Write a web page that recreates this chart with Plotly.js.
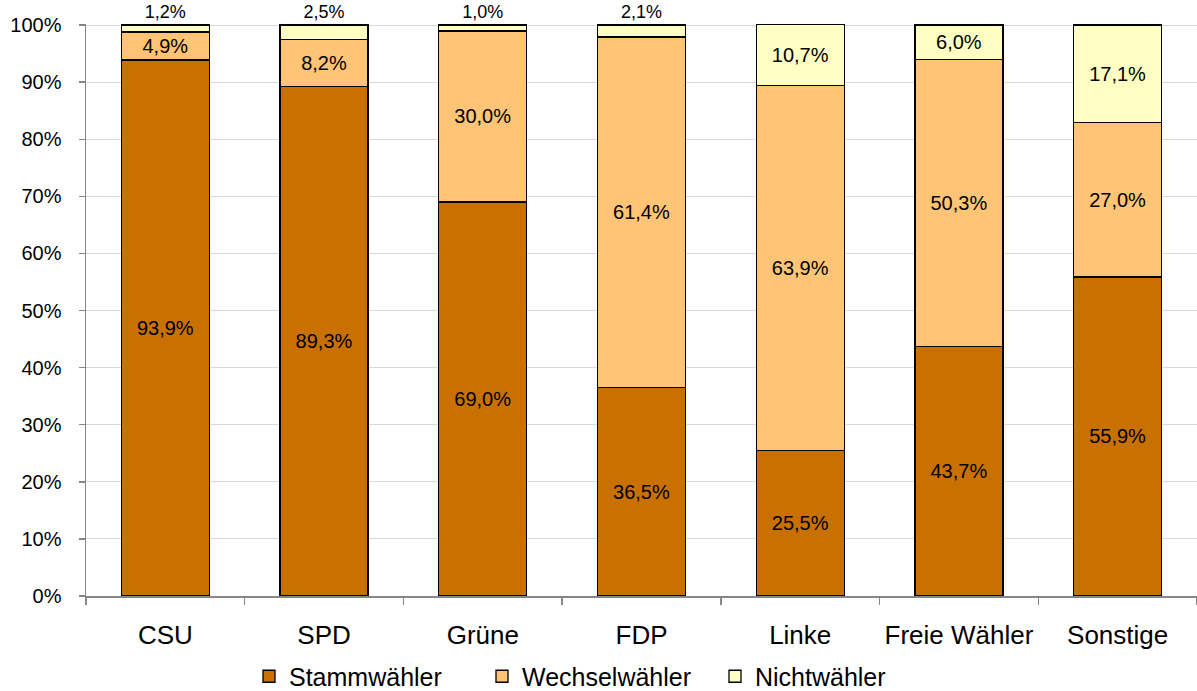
<!DOCTYPE html>
<html>
<head>
<meta charset="utf-8">
<script src="https://cdn.plot.ly/plotly-3.0.1.min.js"></script>
<style>html,body{margin:0;padding:0;background:#fff}#chart{width:1197px;height:691px}</style>
</head>
<body>
<div id="chart"></div>
<script>
const categories = ['CSU', 'SPD', 'Grüne', 'FDP', 'Linke', 'Freie Wähler', 'Sonstige'];
const stammwaehler = [93.9, 89.3, 69.0, 36.5, 25.5, 43.7, 55.9];
const wechselwaehler = [4.9, 8.2, 30.0, 61.4, 63.9, 50.3, 27.0];
const nichtwaehler = [1.2, 2.5, 1.0, 2.1, 10.7, 6.0, 17.1];
const yTicks = [0, 10, 20, 30, 40, 50, 60, 70, 80, 90, 100];

const fmt = v => v.toFixed(1).replace('.', ',') + '%';
const FONT = 'Liberation Sans, Arial, sans-serif';

function mkTrace(name, vals, color, positions, sizes) {
  return {
    type: 'bar', name: name, x: categories, y: vals,
    text: vals.map(fmt),
    textposition: positions || 'inside',
    insidetextanchor: 'middle',
    constraintext: 'none',
    cliponaxis: false,
    textfont: {family: FONT, color: '#000', size: sizes || 20},
    insidetextfont: {family: FONT, color: '#000', size: sizes || 20},
    outsidetextfont: {family: FONT, color: '#000', size: sizes || 20},
    marker: {color: color, line: {color: '#000', width: 1.3}},
    hoverinfo: 'x+y+name'
  };
}

const nPos = nichtwaehler.map(v => v < 5 ? 'outside' : 'inside');
const nSize = nichtwaehler.map(v => v < 5 ? 18 : 20);

const data = [
  mkTrace('Stammwähler', stammwaehler, '#C87000'),
  mkTrace('Wechselwähler', wechselwaehler, '#FFC476'),
  mkTrace('Nichtwähler', nichtwaehler, '#FFFFC4', nPos, nSize)
];

const layout = {
  width: 1197, height: 691,
  margin: {l: 86, r: 0, t: 24, b: 95},
  barmode: 'stack',
  bargap: 0.445,
  paper_bgcolor: '#fff', plot_bgcolor: '#fff',
  font: {family: FONT, color: '#000'},
  xaxis: {
    type: 'category',
    tickfont: {size: 26, family: FONT, color: '#000'},
    showline: true, linecolor: '#868686', linewidth: 1.5,
    ticks: 'outside', tickson: 'boundaries', ticklen: 7, tickcolor: '#868686', tickwidth: 1.5,
    ticklabelstandoff: 15,
    showgrid: false
  },
  yaxis: {
    range: [0, 100.2],
    tickvals: yTicks,
    ticktext: yTicks.map(v => v + '%'),
    tickfont: {size: 20, family: FONT, color: '#000'},
    showline: true, linecolor: '#868686', linewidth: 1.5,
    ticks: 'outside', ticklen: 6, tickcolor: '#868686', tickwidth: 1.5,
    ticklabelstandoff: 13,
    showgrid: true, gridcolor: '#d9d9d9', gridwidth: 1,
    zeroline: false
  },
  showlegend: true,
  legend: {
    orientation: 'h',
    xref: 'container', yref: 'container',
    x: 0.5, xanchor: 'center',
    y: 0.021, yanchor: 'middle',
    font: {size: 25, family: FONT, color: '#000'},
    traceorder: 'normal',
    itemwidth: 30,
    entrywidth: 188
  }
};

Plotly.newPlot('chart', data, layout, {displayModeBar: false, staticPlot: true});
</script>
</body>
</html>
